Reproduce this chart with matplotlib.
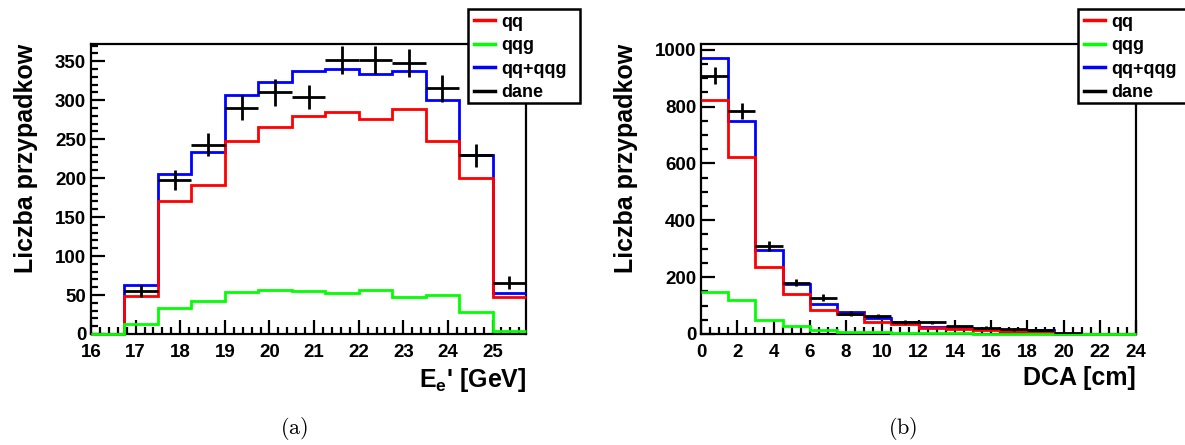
import numpy as np
import matplotlib
matplotlib.use("Agg")
import matplotlib.pyplot as plt
from matplotlib.patches import Rectangle
from matplotlib.lines import Line2D
from matplotlib.ticker import MultipleLocator

plt.rcParams['font.family'] = ['Liberation Sans', 'DejaVu Sans']
plt.rcParams['font.weight'] = 'bold'
plt.rcParams['axes.labelweight'] = 'bold'
plt.rcParams['mathtext.fontset'] = 'custom'
plt.rcParams['mathtext.rm'] = 'Liberation Sans:bold'
plt.rcParams['mathtext.bf'] = 'Liberation Sans:bold'
plt.rcParams['mathtext.it'] = 'Liberation Sans:bold'

# panel (a): electron energy, bins of 0.75 GeV
e_edges = 16 + 0.75 * np.arange(14)
e_qq = [0, 49, 170, 191, 248, 265, 280, 285, 276, 289, 248, 200, 48]
e_qqg = [0, 13, 33, 42, 54, 57, 55, 53, 57, 48, 50, 28, 4]
e_sum = [0, 63, 205, 233, 306, 323, 338, 340, 334, 338, 300, 229, 53]
e_data = [55, 198, 243, 290, 310, 304, 352, 352, 348, 315, 229, 66]
e_err = [8, 13, 15, 16, 17, 16, 18, 18, 18, 17, 15, 8]

# panel (b): DCA, bins of 1.5 cm
d_edges = 1.5 * np.arange(17)
d_qq = [823, 624, 237, 140, 86, 69, 43, 35, 20, 16, 14, 9, 8, 0, 0, 0]
d_qqg = [148, 119, 49, 28, 14, 8, 6, 3, 2, 2, 1, 1, 1, 1, 1, 1]
d_sum = [971, 749, 294, 177, 107, 78, 57, 41, 26, 20, 16, 12, 15, 0, 0, 0]
d_data = [909, 783, 309, 181, 128, 72, 63, 43, 41, 28, 22, 16, 14, 2]
d_err = [30, 28, 18, 13, 11, 8, 8, 7, 6, 5, 5, 4, 4, 1]

labels = ["qq", "qqg", "qq+qqg", "dane"]
colors = ["#ff0000", "#00ff00", "#0000ff", "black"]

W, H = 1185, 445
fig = plt.figure(figsize=(W / 100, H / 100), dpi=100)


def px_axes(x0, y0, x1, y1):
    return fig.add_axes([x0 / W, 1 - y1 / H, (x1 - x0) / W, (y1 - y0) / H])


def draw_panel(ax, edges, qq, qqg, tot, data, err, ylim, xlabel):
    lw = 2.0
    ax.stairs(tot, edges, baseline=None, color=colors[2], lw=lw, zorder=3, clip_on=False)
    ax.stairs(qq, edges, baseline=None, color=colors[0], lw=lw, zorder=4, clip_on=False)
    ax.stairs(qqg, edges, baseline=None, color=colors[1], lw=lw, zorder=5, clip_on=False)
    bw = edges[1] - edges[0]
    centers = edges[1:len(data) + 1] - bw / 2
    ax.errorbar(centers, data, xerr=bw / 2, yerr=err, fmt='none', ecolor='black',
                elinewidth=2.0, capsize=0, zorder=6)
    ax.set_xlim(edges[0], edges[-1])
    ax.set_ylim(*ylim)
    for s in ax.spines.values():
        s.set_linewidth(1.6)
    ax.tick_params(which='both', direction='in', top=False, right=False,
                   labelsize=13.5, width=1.6)
    ax.tick_params(which='major', length=10)
    ax.tick_params(which='minor', length=5)
    ax.tick_params(axis='x', pad=7)
    ax.set_ylabel("Liczba przypadkow", fontsize=18, fontweight='bold',
                  loc='top', labelpad=12)
    ax.set_xlabel(xlabel, fontsize=18, fontweight='bold', loc='right', labelpad=4)
    for t in ax.get_xticklabels() + ax.get_yticklabels():
        t.set_fontweight('bold')


ax1 = px_axes(91, 44, 526, 334)
draw_panel(ax1, e_edges, e_qq, e_qqg, e_sum, [np.nan] + e_data, [0] + e_err,
           (0, 372), r"E$_{\mathrm{e}}$' [GeV]")
ax1.set_xticks(np.arange(16, 26))
ax1.xaxis.set_minor_locator(MultipleLocator(0.2))
ax1.yaxis.set_major_locator(MultipleLocator(50))
ax1.yaxis.set_minor_locator(MultipleLocator(10))

ax2 = px_axes(701, 44, 1136, 334)
draw_panel(ax2, d_edges, d_qq, d_qqg, d_sum, d_data, d_err,
           (0, 1020), "DCA [cm]")
ax2.xaxis.set_major_locator(MultipleLocator(2))
ax2.xaxis.set_minor_locator(MultipleLocator(0.5))
ax2.yaxis.set_major_locator(MultipleLocator(200))
ax2.yaxis.set_minor_locator(MultipleLocator(50))

handles = [Line2D([], [], color=c, lw=2.5) for c in colors]

for x0 in (468, 1078):
    fig.patches.append(Rectangle((x0 / W, 1 - 103 / H), 112 / W, 94 / H,
                                 transform=fig.transFigure, facecolor='white',
                                 edgecolor='black', lw=1.8, zorder=10))
    leg = fig.legend(handles, labels, loc='upper left',
                     bbox_to_anchor=((x0 + 2) / W, 1 - 10 / H), frameon=False,
                     fontsize=13, handlelength=1.2, handletextpad=0.35,
                     labelspacing=0.36, borderpad=0.2, borderaxespad=0)
    leg.set_zorder(11)
    for t in leg.get_texts():
        t.set_fontweight('bold')

fig.text(294 / W, 1 - 429 / H, r"$(\mathrm{a})$", math_fontfamily='cm',
         fontsize=16, ha='center', va='center')
fig.text(903 / W, 1 - 429 / H, r"$(\mathrm{b})$", math_fontfamily='cm',
         fontsize=16, ha='center', va='center')

fig.savefig("out.png", dpi=100)
